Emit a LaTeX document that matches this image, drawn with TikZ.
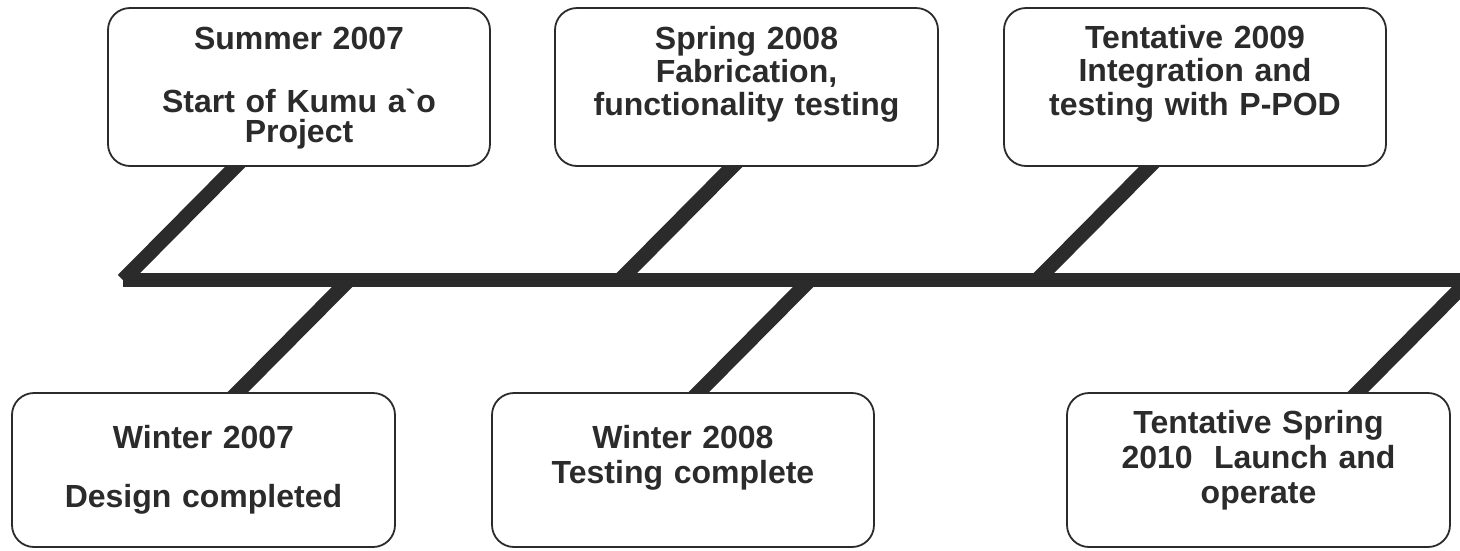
\documentclass[tikz,border=0pt]{standalone}
\usepackage{fontspec}
\newfontfamily\lab{Liberation Sans}
\usetikzlibrary{calc}
\pgfdeclarelayer{bg}
\pgfsetlayers{bg,main}
\definecolor{ink}{HTML}{2B2B2B}
\begin{document}
\begin{tikzpicture}[x=1pt,y=-1pt,
  box/.style={draw=ink, line width=1.8pt, rounded corners=22pt, fill=white,
    inner sep=0pt, outer sep=0pt, anchor=north, align=center, text=ink},
  bone/.style={draw=ink, line width=14.5pt, line cap=butt}]
\useasboundingbox (0,0) rectangle (1460,550);
\clip (0,0) rectangle (1460,550);

% top boxes
\node[box, text width=382pt, text height=41pt, text depth=117pt,
  font=\lab\bfseries\fontsize{32}{30}\selectfont] (b1) at (299,8)
  {Summer 2007\\[33pt]Start of Kumu a\textasciigrave o\\Project};
\node[box, text width=383pt, text height=41pt, text depth=117pt,
  font=\lab\bfseries\fontsize{32}{33}\selectfont] (b2) at (746.5,8)
  {Spring 2008\\Fabrication,\\functionality testing};
\node[box, text width=382pt, text height=40pt, text depth=118pt,
  font=\lab\bfseries\fontsize{32}{33.5}\selectfont] (b3) at (1195,8)
  {Tentative 2009\\Integration and\\testing with P-POD};

% bottom boxes
\node[box, text width=383pt, text height=55pt, text depth=99pt,
  font=\lab\bfseries\fontsize{32}{30}\selectfont] (b4) at (203.5,393)
  {Winter 2007\\[29pt]Design completed};
\node[box, text width=382pt, text height=55pt, text depth=99pt,
  font=\lab\bfseries\fontsize{32}{35}\selectfont] (b5) at (683,393)
  {Winter 2008\\Testing complete};
\node[box, text width=383pt, text height=40pt, text depth=114pt,
  font=\lab\bfseries\fontsize{32}{35}\selectfont] (b6) at (1258.5,393)
  {Tentative Spring\\2010\ \ Launch and\\operate};

% spine points
\coordinate (s1) at (123,280);
\coordinate (s2) at (620,280);
\coordinate (s3) at (1037,280);
\coordinate (s4) at (349,280);
\coordinate (s5) at (810,280);
\coordinate (s6) at (1469,280);
\coordinate (se) at (1480,280);

\begin{pgfonlayer}{bg}
  \draw[bone] (s1) -- (se);
  \draw[bone] (s1) -- ($(b1.south)+(-56,-7)$);
  \draw[bone] (s2) -- ($(b2.south)+(-6.5,-7)$);
  \draw[bone] (s3) -- ($(b3.south)+(-38,-7)$);
  \draw[bone] (s4) -- ($(b4.north)+(26.5,7)$);
  \draw[bone] (s5) -- ($(b5.north)+(8,7)$);
  \draw[bone] (s6) -- ($(b6.north)+(91.5,7)$);
\end{pgfonlayer}
\end{tikzpicture}
\end{document}
